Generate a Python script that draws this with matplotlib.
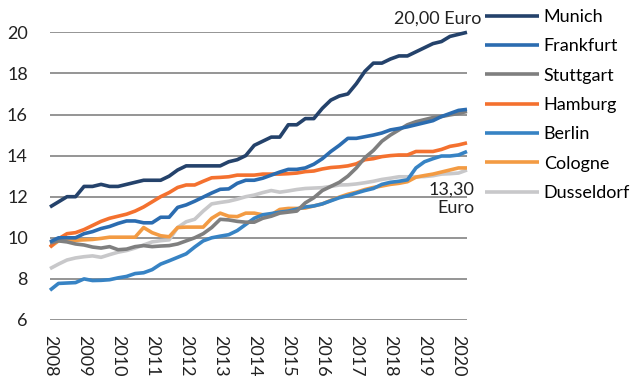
import numpy as np
import matplotlib.pyplot as plt

plt.rcParams['font.family'] = ['Lato', 'DejaVu Sans']

# quarterly rents, Q1 2008 .. Q2 2020 (Euro per m2)
quarters = 2008 + np.arange(50) / 4

munich = [11.5, 11.75, 12.0, 12.0, 12.5, 12.5, 12.6, 12.5, 12.5, 12.6,
          12.7, 12.8, 12.8, 12.8, 13.0, 13.3, 13.5, 13.5, 13.5, 13.5,
          13.5, 13.7, 13.8, 14.0, 14.5, 14.7, 14.9, 14.9, 15.5, 15.5,
          15.8, 15.8, 16.3, 16.7, 16.9, 17.0, 17.5, 18.1, 18.5, 18.5,
          18.7, 18.85, 18.85, 19.05, 19.25, 19.45, 19.55, 19.8, 19.9, 20.0]
frankfurt = [9.8, 10.0, 10.0, 10.0, 10.2, 10.3, 10.45, 10.55, 10.7, 10.82,
             10.82, 10.73, 10.73, 11.0, 11.0, 11.48, 11.6, 11.78, 11.98, 12.18,
             12.36, 12.38, 12.65, 12.8, 12.8, 12.9, 13.05, 13.2, 13.33, 13.33,
             13.4, 13.58, 13.85, 14.2, 14.5, 14.84, 14.84, 14.92, 15.0, 15.1,
             15.25, 15.32, 15.4, 15.5, 15.6, 15.7, 15.9, 16.05, 16.2, 16.25]
stuttgart = [9.75, 9.85, 9.8, 9.7, 9.65, 9.55, 9.5, 9.57, 9.42, 9.45,
             9.57, 9.62, 9.57, 9.6, 9.62, 9.7, 9.85, 10.0, 10.2, 10.5,
             10.9, 10.87, 10.8, 10.76, 10.76, 10.95, 11.05, 11.2, 11.25, 11.3,
             11.7, 11.95, 12.3, 12.5, 12.7, 13.0, 13.4, 13.9, 14.25, 14.7,
             15.0, 15.25, 15.5, 15.65, 15.75, 15.85, 15.9, 15.98, 16.05, 16.15]
hamburg = [9.55, 9.95, 10.2, 10.25, 10.4, 10.6, 10.8, 10.95, 11.05, 11.15,
           11.3, 11.5, 11.75, 12.0, 12.2, 12.45, 12.57, 12.57, 12.75, 12.92,
           12.94, 12.97, 13.05, 13.05, 13.05, 13.1, 13.1, 13.1, 13.12, 13.15,
           13.22, 13.25, 13.35, 13.42, 13.45, 13.5, 13.6, 13.8, 13.85, 13.95,
           14.0, 14.03, 14.03, 14.2, 14.2, 14.2, 14.3, 14.45, 14.52, 14.62]
berlin = [7.45, 7.78, 7.8, 7.82, 8.0, 7.92, 7.93, 7.96, 8.05, 8.12,
          8.26, 8.3, 8.45, 8.72, 8.88, 9.05, 9.22, 9.55, 9.85, 10.0,
          10.08, 10.15, 10.35, 10.65, 10.95, 11.12, 11.18, 11.25, 11.3, 11.4,
          11.5, 11.55, 11.65, 11.8, 11.95, 12.05, 12.18, 12.3, 12.4, 12.6,
          12.7, 12.75, 12.82, 13.4, 13.7, 13.85, 13.98, 13.98, 14.03, 14.2]
cologne = [9.55, 9.85, 9.88, 9.88, 9.9, 9.92, 9.97, 10.03, 10.03, 10.03,
           10.03, 10.5, 10.25, 10.1, 10.05, 10.5, 10.52, 10.52, 10.52, 10.95,
           11.2, 11.05, 11.03, 11.2, 11.2, 11.12, 11.12, 11.38, 11.43, 11.43,
           11.45, 11.55, 11.65, 11.82, 11.98, 12.12, 12.22, 12.35, 12.45, 12.52,
           12.6, 12.65, 12.73, 12.95, 13.03, 13.1, 13.2, 13.3, 13.4, 13.4]
dusseldorf = [8.5, 8.72, 8.92, 9.02, 9.08, 9.12, 9.05, 9.18, 9.3, 9.38,
              9.5, 9.65, 9.8, 9.86, 9.9, 10.5, 10.78, 10.9, 11.3, 11.65,
              11.72, 11.78, 11.88, 12.0, 12.08, 12.2, 12.3, 12.22, 12.28, 12.35,
              12.4, 12.42, 12.44, 12.5, 12.57, 12.58, 12.62, 12.68, 12.75, 12.84,
              12.9, 12.97, 12.97, 12.97, 12.98, 13.02, 13.1, 13.12, 13.15, 13.3]

cities = ['Munich', 'Frankfurt', 'Stuttgart', 'Hamburg', 'Berlin', 'Cologne', 'Dusseldorf']
series = [munich, frankfurt, stuttgart, hamburg, berlin, cologne, dusseldorf]
colors = ['#24426b', '#2b6cb0', '#7f7f7f', '#f4712f', '#3783c4', '#f39b43', '#c8c8ca']
years = list(range(2008, 2021))

fig = plt.figure(figsize=(6.39, 3.76), dpi=100)
ax = fig.add_axes([50 / 639, 1 - 320 / 376, 417 / 639, 287.7 / 376])

# draw back to front so Munich ends up on top
for name, vals, c in reversed(list(zip(cities, series, colors))):
    ax.plot(quarters, vals, color=c, lw=2.6, label=name, clip_on=False,
            solid_capstyle='butt', zorder=3)

ax.set_xlim(2008, quarters[-1])
ax.set_ylim(6, 20)
ax.set_yticks(range(6, 21, 2))
ax.set_xticks(years)
ax.set_xticklabels([str(y) for y in years], rotation=270, va='top', ha='center')
ax.tick_params(length=0, labelsize=13, colors='#222222')
ax.tick_params(axis='y', pad=16)
ax.tick_params(axis='x', pad=11)
ax.grid(axis='y', color='#8c8c8c', lw=1.3)
ax.set_axisbelow(True)
for s in ax.spines.values():
    s.set_visible(False)

ax.text(2020.66, 20.3, '20,00 Euro', ha='right', va='bottom', fontsize=13, color='#222222')
ax.text(2020.46, 12.75, '13,30\nEuro', ha='right', va='top', fontsize=13,
        color='#222222', linespacing=1.2, multialignment='right')

handles, labels = ax.get_legend_handles_labels()
fig.legend(handles[::-1], labels[::-1], loc='upper left', bbox_to_anchor=(485 / 639, 1 - 9 / 376),
           frameon=False, fontsize=13, handlelength=3.0, handletextpad=0.25,
           labelspacing=0.74, borderaxespad=0, borderpad=0)

fig.savefig('out.png', dpi=100)
